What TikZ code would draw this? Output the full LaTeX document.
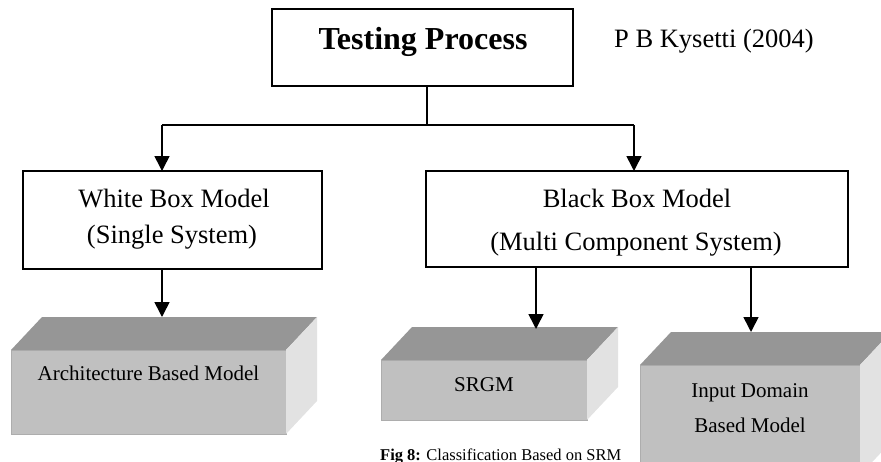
\documentclass[tikz,border=0pt]{standalone}
\usepackage{fontspec}
\setmainfont{Liberation Serif}
\usetikzlibrary{arrows.meta,calc}
\definecolor{slabfront}{HTML}{C0C0C0}
\definecolor{slabtop}{HTML}{969696}
\definecolor{slabside}{HTML}{E2E2E2}
\definecolor{slabedge}{HTML}{ADADAD}

% draws the top and right faces of a 3D slab whose front face is node #1
\newcommand\drawslab[1]{%
  \fill[slabtop] (#1.north west) -- ++(31,-33) -- ($(#1.north east)+(31,-33)$) -- (#1.north east) -- cycle;
  \fill[slabside] (#1.north east) -- ++(31,-33) -- ($(#1.south east)+(31,-33)$) -- (#1.south east) -- cycle;
  \coordinate (#1back) at ($(#1.north west)+(31,-33)$);
}

\begin{document}
\begin{tikzpicture}[x=1pt,y=-1pt,
  frame/.style={draw, line width=1.6pt, inner sep=0, outer sep=0},
  wire/.style={line width=1.6pt},
  arrow/.style={wire, -{Triangle[length=15pt,width=15pt]}},
  front/.style={fill=slabfront, draw=slabedge, line width=0.8pt, inner sep=0, outer sep=0},
  txt/.style={anchor=base, inner sep=0, font=\fontsize{26.5}{30}\selectfont},
  slabtxt/.style={anchor=base, inner sep=0, font=\fontsize{21}{24}\selectfont},
]
\clip (0,0) rectangle (881,461);

% top level
\node[frame, minimum width=301pt, minimum height=77pt] (proc) at (422.5,47.5) {};
\node[txt, font=\fontsize{32}{36}\selectfont\bfseries] (proct) at (423,49) {Testing Process};
\node[txt, anchor=base west] (author) at (614,47) {P B Kysetti (2004)};

% second level
\node[frame, minimum width=299pt, minimum height=98pt] (white) at (172.5,220) {};
\node[txt] (white1) at (174,207) {White Box Model};
\node[txt] (white2) at (172,243) {(Single System)};

\node[frame, minimum width=422pt, minimum height=96pt] (black) at (637,219) {};
\node[txt] (black1) at (637,207) {Black Box Model};
\node[txt] (black2) at (636,250) {(Multi Component System)};

% third level: slabs
\node[front, minimum width=275pt, minimum height=84pt] (arch) at (148.5,392) {};
\drawslab{arch}
\node[slabtxt] (archt) at (148.5,380) {Architecture Based Model};

\node[front, minimum width=206pt, minimum height=60pt] (srgm) at (484,390) {};
\drawslab{srgm}
\node[slabtxt] (srgmt) at (484,391) {SRGM};

\node[front, minimum width=220pt, minimum height=110pt] (input) at (750,420) {};
\drawslab{input}
\node[slabtxt] (input1) at (750,397) {Input Domain};
\node[slabtxt] (input2) at (750,432) {Based Model};

% connectors
\coordinate (hub) at (427,125);
\coordinate (jl) at (162,125);
\coordinate (jr) at (634,125);
\coordinate (sa) at (536,300);
\coordinate (sb) at (751,300);
\draw[wire] (proc.south -| hub) -- (hub);
\draw[wire] (jl) -- (jr);
\draw[arrow] (jl) -- (jl |- white.north);
\draw[arrow] (jr) -- (jr |- black.north);
\draw[arrow] (white.south -| jl) -- (jl |- archback);
\draw[arrow] (black.south -| sa) -- ($(sa |- srgmback)+(0,2)$);
\draw[arrow] (black.south -| sb) -- (sb |- inputback);

% caption
\node[anchor=base west, inner sep=0, font=\fontsize{16.5}{18}\selectfont] (cap) at (380,460.5) {\textbf{Fig 8:} Classification Based on SRM};
\end{tikzpicture}
\end{document}
